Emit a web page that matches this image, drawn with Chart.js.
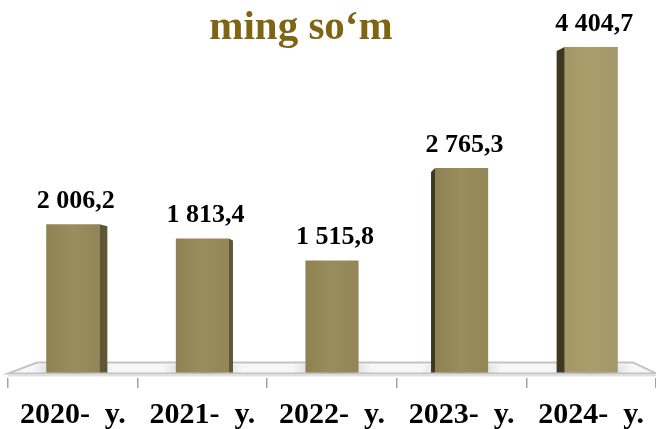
<!DOCTYPE html>
<html>
<head>
<meta charset="utf-8">
<script src="https://cdn.jsdelivr.net/npm/chart.js@4/dist/chart.umd.min.js"></script>
<style>
	html, body {margin: 0; padding: 0; background: #ffffff; overflow: hidden;}
	#wrap {width: 656px; height: 429px;}
</style>
</head>
<body>
<div id="wrap"><canvas id="chart"></canvas></div>
<script>
// chart data
const categories = ['2020-  y.', '2021-  y.', '2022-  y.', '2023-  y.', '2024-  y.'];
const values = [2006.2, 1813.4, 1515.8, 2765.3, 4404.7];
const titleText = 'ming so‘m';

const serif = "'Liberation Serif', 'Times New Roman', serif";

// 2006.2 -> "2 006,2"
function formatValue(v) {
	let parts = v.toFixed(1).split('.');
	let whole = parts[0].replace(/\B(?=(\d{3})+(?!\d))/g, ' ');
	return whole + ',' + parts[1];
}

// horizontal gradient across the front face of each bar,
// bars get a bit lighter towards the right of the chart
function barFill(context) {
	let chart = context.chart;
	let xs = chart.scales.x;
	if (!chart.chartArea || !xs) return '#968a5a';
	let cx = xs.getPixelForValue(context.dataIndex);
	let half = xs.width / categories.length * 0.41 / 2;
	let g = chart.ctx.createLinearGradient(cx - half, 0, cx + half, 0);
	if (context.dataIndex < 4) {
		g.addColorStop(0, '#8e8252');
		g.addColorStop(0.5, '#998d5d');
		g.addColorStop(1, '#928657');
	} else {
		g.addColorStop(0, '#a39766');
		g.addColorStop(0.5, '#ab9f6e');
		g.addColorStop(1, '#a2966a');
	}
	return g;
}

// light grey floor the bars stand on
const floorPlugin = {
	id: 'floor',
	beforeDatasetsDraw(chart) {
		let ctx = chart.ctx;
		let area = chart.chartArea;
		let y0 = chart.scales.y.getPixelForValue(0);
		let front = y0 + 1;
		let back = y0 - 10;
		ctx.save();
		ctx.beginPath();
		ctx.moveTo(area.left + 29, back);
		ctx.lineTo(area.right - 23, back);
		ctx.lineTo(area.right, front);
		ctx.lineTo(area.left, front);
		ctx.closePath();
		ctx.fillStyle = '#f7f7f7';
		ctx.fill();
		ctx.strokeStyle = '#c4c4c4';
		ctx.lineWidth = 2;
		ctx.stroke();
		ctx.fillStyle = '#e0e0e0';
		ctx.fillRect(area.left, front + 1, area.right - area.left, 2);

		// soft shadow at the foot of each bar
		let meta = chart.getDatasetMeta(0);
		meta.data.forEach((bar) => {
			let g = ctx.createRadialGradient(bar.x, y0 - 2, 2, bar.x, y0 - 2, bar.width * 0.75);
			g.addColorStop(0, 'rgba(150,150,150,0.55)');
			g.addColorStop(1, 'rgba(150,150,150,0)');
			ctx.fillStyle = g;
			ctx.fillRect(bar.x - bar.width, y0 - 8, bar.width * 2, 9);
		});
		ctx.restore();
	}
};

// fake 3d side faces and value labels on top
const sidePlugin = {
	id: 'sides',
	afterDatasetsDraw(chart) {
		let ctx = chart.ctx;
		let area = chart.chartArea;
		let mid = (area.left + area.right) / 2;
		let meta = chart.getDatasetMeta(0);
		ctx.save();
		meta.data.forEach((bar, i) => {
			let half = bar.width / 2;
			let s = Math.round(Math.abs(bar.x - mid) * 0.031);
			if (s >= 2) {
				ctx.beginPath();
				if (bar.x < mid) {
					ctx.moveTo(bar.x + half, bar.y);
					ctx.lineTo(bar.x + half + s, bar.y + 2);
					ctx.lineTo(bar.x + half + s, bar.base);
					ctx.lineTo(bar.x + half, bar.base);
					ctx.fillStyle = '#5f5633';
				} else {
					ctx.moveTo(bar.x - half, bar.y);
					ctx.lineTo(bar.x - half - s, bar.y + 4);
					ctx.lineTo(bar.x - half - s, bar.base);
					ctx.lineTo(bar.x - half, bar.base);
					ctx.fillStyle = '#3f3821';
				}
				ctx.closePath();
				ctx.fill();
			}
			ctx.fillStyle = '#000000';
			ctx.font = 'bold 26px ' + serif;
			ctx.textAlign = 'center';
			ctx.textBaseline = 'alphabetic';
			ctx.fillText(formatValue(values[i]), bar.x + 3, bar.y - 16);
		});
		ctx.restore();
	},
	afterDraw(chart) {
		let ctx = chart.ctx;
		ctx.save();
		ctx.fillStyle = '#7f6414';
		ctx.font = 'bold 41px ' + serif;
		ctx.textAlign = 'center';
		ctx.textBaseline = 'alphabetic';
		ctx.fillText(titleText, 301, 39);
		ctx.restore();
	}
};

let ctx = document.getElementById('chart').getContext('2d');

let config = {
	type: 'bar',
	data: {
		labels: categories,
		datasets: [{
			data: values,
			backgroundColor: barFill,
			borderWidth: 0,
			barPercentage: 0.41,
			categoryPercentage: 1.0
		}]
	},
	options: {
		responsive: true,
		maintainAspectRatio: false,
		animation: false,
		devicePixelRatio: 1,
		layout: {
			padding: {left: 8, right: 0, top: 0, bottom: -13}
		},
		plugins: {
			legend: {display: false},
			tooltip: {enabled: false},
			title: {display: false}
		},
		scales: {
			x: {
				border: {display: false},
				grid: {
					display: true,
					drawOnChartArea: false,
					drawTicks: true,
					tickLength: 10,
					color: '#a3a3a3',
					lineWidth: 1.5
				},
				ticks: {
					color: '#000000',
					padding: 9,
					maxRotation: 0,
					font: {family: serif, size: 30, weight: 'bold', lineHeight: 1.2}
				}
			},
			y: {
				display: false,
				min: -75,
				max: 5040
			}
		}
	},
	plugins: [floorPlugin, sidePlugin]
};

let chart = new Chart(ctx, config);
</script>
</body>
</html>
